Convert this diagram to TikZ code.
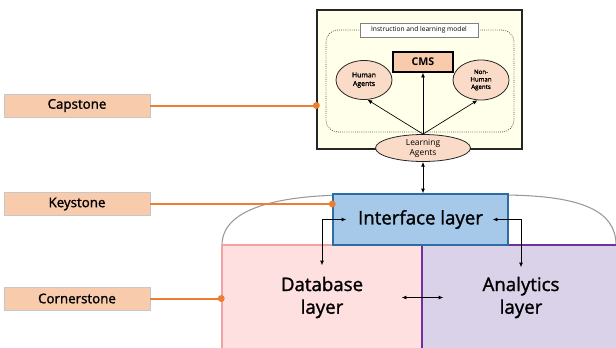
\documentclass[tikz,border=0pt]{standalone}
\usepackage{fontspec}
\setmainfont{Open Sans}
\newfontfamily\semifont{Open Sans}[FakeBold=1.5]
\usepackage{xcolor}
\usetikzlibrary{arrows.meta,positioning,shapes.geometric}

\definecolor{peach}{HTML}{F8CBAD}
\definecolor{agentfill}{HTML}{FADBC8}
\definecolor{tieorange}{HTML}{ED7D31}
\definecolor{capyellow}{HTML}{FFFFEA}
\definecolor{ifacefill}{HTML}{A6C9EA}
\definecolor{ifacedraw}{HTML}{2E6DA4}
\definecolor{dbfill}{HTML}{FFE0E1}
\definecolor{dbdraw}{HTML}{F3A1A3}
\definecolor{anfill}{HTML}{D9D2E9}
\definecolor{andraw}{HTML}{7030A0}

\begin{document}
\begin{tikzpicture}[
  x=0.75pt, y=-0.75pt,
  >={Latex[length=3.5pt,width=3pt]},
  tier/.style={
    draw=black!22,
    fill=peach,
    inner sep=0pt,
    minimum width=109.5pt,
    minimum height=17.25pt,
    font=\semifont\fontsize{10}{12}\selectfont
  },
  agent/.style={
    ellipse,
    draw=black!85,
    fill=agentfill,
    inner sep=0pt,
    align=center,
    line width=0.6pt
  },
  layer/.style={
    draw,
    line width=1.1pt,
    inner sep=0pt,
    align=center,
    font=\semifont\fontsize{14}{17}\selectfont
  },
  tie/.style={draw=tieorange, line width=1.5pt},
  arr/.style={->, line width=0.5pt},
  biarr/.style={<->, line width=0.6pt}
]
\useasboundingbox (0,0) rectangle (616,347);

\node[tier] (capstone) at (77,105.5) {Capstone};
\node[tier] (keystone) at (77,204) {Keystone};
\node[tier] (cornerstone) at (77,298.5) {Cornerstone};

\node[draw=black!85, fill=capyellow, line width=1pt, minimum width=153.75pt,
  minimum height=104.25pt, inner sep=0pt] (capbox) at (419.5,79.5) {};
\node[draw=black!70, densely dotted, line width=0.6pt, rounded corners=9pt, minimum width=141pt,
  minimum height=76.5pt, inner sep=0pt] (model) at (420,81) {};
\node[draw=black!50, fill=white, minimum width=88.5pt, minimum height=10.5pt,
  inner sep=0pt, font=\fontsize{5}{6}\selectfont] (modeltitle) at (419,30)
  {Instruction and learning model};
\node[draw, line width=1.1pt, fill=peach, minimum width=45pt, minimum height=15pt,
  inner sep=0pt, font=\bfseries\fontsize{8}{9}\selectfont] (cms) at (423,62) {CMS};
\node[agent, minimum width=42pt, minimum height=29.25pt,
  font=\semifont\fontsize{5.2}{6.5}\selectfont] (human) at (364,80) {Human\\Agents};
\node[agent, minimum width=42pt, minimum height=30pt,
  font=\semifont\fontsize{4.6}{5.6}\selectfont] (nonhuman) at (481,80)
  {Non-\\Human\\Agents};
\node[agent, minimum width=71.25pt, minimum height=20.25pt,
  font=\fontsize{6.3}{7.4}\selectfont] (learning) at (423,148) {Learning\\Agents};

\draw[arr] (learning.north) -- (human.-80);
\draw[arr] (learning.north) -- (cms.south);
\draw[arr] (learning.north) -- (nonhuman.-100);

\draw[black!40, line width=0.8pt] (222,245) .. controls (222,205) and (290,195) .. (350,195)
  -- (500,195) .. controls (580,195) and (616,210) .. (616,245);

\node[layer, draw=dbdraw, fill=dbfill, minimum width=150pt, minimum height=78.75pt]
  (dbase) at (322,297.5) {Database\\layer};
\node[layer, draw=andraw, fill=anfill, minimum width=148.5pt, minimum height=78.75pt]
  (analytics) at (521,297.5) {Analytics\\layer};
\node[layer, draw=ifacedraw, fill=ifacefill, minimum width=131.25pt, minimum height=38.25pt]
  (iface) at (420.5,219.5) {Interface layer};

\draw[biarr] (learning.south) -- (learning.south |- iface.north);
\draw[biarr] ([xshift=10.5pt]iface.west) -| ([yshift=-15.75pt]dbase.north);
\draw[biarr] ([xshift=-12pt]iface.east) -| ([yshift=-17.25pt]analytics.north);
\draw[biarr] ([xshift=-15.75pt]dbase.east) -- ([xshift=16.5pt]analytics.west);

\draw[tie] (capstone.east) -- (capstone.east -| capbox.west);
\draw[tie] (keystone.east) -- (keystone.east -| iface.west);
\draw[tie] (cornerstone.east) -- (cornerstone.east -| dbase.west);
\fill[tieorange] (capstone.east -| capbox.west) circle (2.6pt);
\fill[tieorange] (keystone.east -| iface.west) circle (2.6pt);
\fill[tieorange] (cornerstone.east -| dbase.west) circle (2.6pt);
\end{tikzpicture}
\end{document}
